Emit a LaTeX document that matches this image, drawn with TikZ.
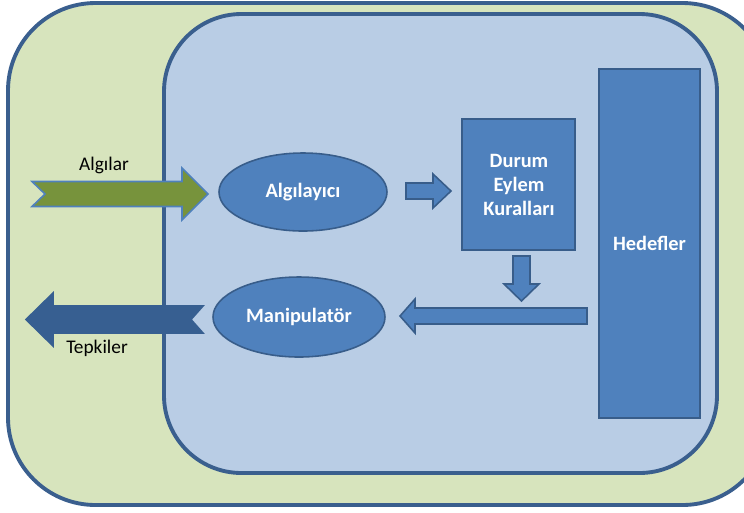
\documentclass[tikz,border=0pt]{standalone}
\usepackage{fontspec}
\setmainfont{Carlito}
\usetikzlibrary{shapes.geometric}
\definecolor{outerfill}{HTML}{D7E4BD}
\definecolor{innerfill}{HTML}{B9CDE5}
\definecolor{frameline}{HTML}{3A5F8E}
\definecolor{boxfill}{HTML}{4F81BD}
\definecolor{boxline}{HTML}{385D8A}
\definecolor{greenarrow}{HTML}{77933C}
\definecolor{darkarrow}{HTML}{375F91}
\tikzset{
  frame/.style={draw=frameline, line width=2.2pt},
  blockbox/.style={draw=boxline, fill=boxfill, line width=0.9pt},
  blockarrow/.style={draw=boxline, fill=boxfill, line width=0.9pt, line join=miter},
  boxlabel/.style={text=white, font=\fontsize{11.6}{13.9}\selectfont\bfseries, align=center},
  plainlabel/.style={text=black, font=\fontsize{11}{13}\selectfont},
}
\begin{document}
\begin{tikzpicture}[x=0.02cm, y=-0.02cm]
\useasboundingbox (0,0) rectangle (744,512);
\clip (0,0) rectangle (744,512);
% outer frame
\draw[frame, fill=outerfill, rounded corners=1.75cm] (8,3) rectangle (770,505);
% inner frame
\draw[frame, fill=innerfill, rounded corners=1.55cm] (164,14) rectangle (717,473);
% Hedefler
\node[blockbox, minimum width=101*0.02cm, minimum height=349*0.02cm, inner sep=0pt] (hedef) at (649.5,243.5) {};
\node[boxlabel] (hedeflbl) at (hedef.center) {Hedefler};
% Durum box
\node[blockbox, minimum width=113*0.02cm, minimum height=131*0.02cm, inner sep=0pt] (durum) at (518.5,184.5) {};
\node[boxlabel] (durumlbl) at (519,185) {Durum\\Eylem\\Kuralları};
% ellipses
\node[blockbox, ellipse, minimum width=168*0.02cm, minimum height=78*0.02cm, inner sep=0pt] (algi) at (303,192) {};
\node[boxlabel] (algilbl) at (algi.center) {Algılayıcı};
\node[blockbox, ellipse, minimum width=172*0.02cm, minimum height=80*0.02cm, inner sep=0pt] (mani) at (299,317) {};
\node[boxlabel] (manilbl) at (mani.center) {Manipulatör};
% green input arrow
\draw[draw=boxfill, fill=greenarrow, line width=0.9pt, line join=miter]
  (32,181.5) -- (182,181.5) -- (182,168) -- (208,194) -- (182,220) -- (182,206.5) -- (32,206.5) -- (45,194) -- cycle;
\node[plainlabel] (algilar) at (104,165) {Algılar};
% dark output arrow
\draw[draw=darkarrow, fill=darkarrow, line width=0.9pt, line join=miter]
  (26,319.5) -- (53,293) -- (53,306) -- (203,306) -- (191,319.5) -- (203,333) -- (53,333) -- (53,346) -- cycle;
\node[plainlabel] (tepkiler) at (97,348) {Tepkiler};
% small right arrow
\draw[blockarrow]
  (406,183) -- (433,183) -- (433,174) -- (451,191) -- (433,208) -- (433,199) -- (406,199) -- cycle;
% down arrow
\draw[blockarrow]
  (513,256) -- (530,256) -- (530,284) -- (539,284) -- (521.5,301) -- (504,284) -- (513,284) -- cycle;
% long left arrow
\draw[blockarrow]
  (587,308) -- (415,308) -- (415,299) -- (400,316) -- (415,333) -- (415,324) -- (587,324) -- cycle;
\end{tikzpicture}
\end{document}
